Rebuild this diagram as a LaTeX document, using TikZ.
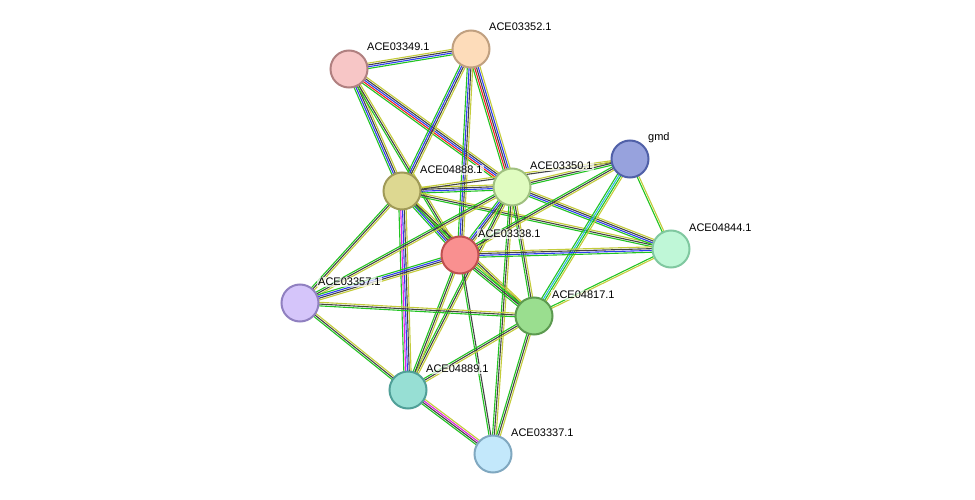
\documentclass[tikz,border=0pt]{standalone}
\usepackage{fontspec}
\setmainfont{Liberation Sans}
\usetikzlibrary{calc,backgrounds}
\definecolor{eg}{HTML}{22C422}
\definecolor{ey}{HTML}{C4CC3A}
\definecolor{eb}{HTML}{2E3CF0}
\definecolor{ek}{HTML}{444444}
\definecolor{er}{HTML}{F02020}
\definecolor{em}{HTML}{E020E0}
\definecolor{ec}{HTML}{30B8E0}
\tikzset{
  prot/.style={circle,minimum size=37pt,inner sep=0pt,line width=2pt},
  lab/.style={font=\fontsize{11}{12}\selectfont,anchor=west,inner sep=1pt,fill=white,fill opacity=0.7,text opacity=1}
}
\newcommand\ed[4]{%
  \foreach \c [count=\i] in {#4} {%
    \pgfmathsetmacro\off{(\i-(#3+1)/2)*1.8}%
    \draw[\c,line width=1.1pt] ($(#1.center)!\off pt!90:(#2.center)$) -- ($(#2.center)!\off pt!-90:(#1.center)$);
  }}
\begin{document}
\begin{tikzpicture}[x=1pt,y=-1pt]
\useasboundingbox (0,0) rectangle (975,500);
\node[prot,fill={rgb,255:red,247;green,198;blue,198},draw={rgb,255:red,176;green,128;blue,128}] (n49) at (349,69) {};
\node[prot,fill={rgb,255:red,253;green,220;blue,186},draw={rgb,255:red,192;green,160;blue,128}] (n52) at (471,49) {};
\node[prot,fill={rgb,255:red,151;green,162;blue,221},draw={rgb,255:red,80;green,96;blue,168}] (gmd) at (630,159) {};
\node[prot,fill={rgb,255:red,221;green,216;blue,145},draw={rgb,255:red,160;green,154;blue,88}] (n88) at (402,191) {};
\node[prot,fill={rgb,255:red,224;green,252;blue,192},draw={rgb,255:red,160;green,192;blue,128}] (n50) at (512,187) {};
\node[prot,fill={rgb,255:red,249;green,144;blue,144},draw={rgb,255:red,192;green,80;blue,80}] (n38) at (460,255) {};
\node[prot,fill={rgb,255:red,191;green,247;blue,215},draw={rgb,255:red,128;green,200;blue,160}] (n44) at (671,249) {};
\node[prot,fill={rgb,255:red,213;green,197;blue,250},draw={rgb,255:red,144;green,128;blue,192}] (n57) at (300,303) {};
\node[prot,fill={rgb,255:red,154;green,222;blue,143},draw={rgb,255:red,92;green,154;blue,80}] (n17) at (534,316) {};
\node[prot,fill={rgb,255:red,151;green,223;blue,212},draw={rgb,255:red,80;green,160;blue,152}] (n89) at (408,390) {};
\node[prot,fill={rgb,255:red,195;green,232;blue,251},draw={rgb,255:red,128;green,168;blue,192}] (n37) at (493,454) {};
\begin{scope}[on background layer]
\ed{n49}{n52}{4}{eg,eb,ek,ey}
\ed{n49}{n88}{4}{eg,eb,ek,ey}
\ed{n49}{n50}{5}{eg,er,eb,ek,ey}
\ed{n49}{n38}{3}{eg,ek,ey}
\ed{n52}{n88}{4}{eg,eb,ek,ey}
\ed{n52}{n50}{5}{eg,er,ek,eb,ey}
\ed{n52}{n38}{4}{eg,eb,ek,ey}
\ed{n88}{n50}{4}{eg,eb,ek,ey}
\ed{n88}{n38}{4}{eg,eb,ek,ey}
\ed{n88}{n17}{3}{eg,ek,ey}
\ed{n88}{n44}{3}{eg,ek,ey}
\ed{n88}{n57}{3}{eg,ek,ey}
\ed{n88}{n89}{5}{eg,em,eb,ek,ey}
\ed{n88}{gmd}{2}{ek,ey}
\ed{n50}{gmd}{3}{eg,ek,ey}
\ed{n50}{n44}{4}{eg,eb,ek,ey}
\ed{n50}{n38}{4}{eg,eb,ek,ey}
\ed{n50}{n17}{3}{eg,ek,ey}
\ed{n50}{n57}{3}{eg,ek,ey}
\ed{n50}{n89}{3}{eg,ek,ey}
\ed{n50}{n37}{3}{eg,ek,ey}
\ed{gmd}{n38}{3}{eg,ek,ey}
\ed{gmd}{n17}{4}{eg,ec,eg,ey}
\ed{gmd}{n44}{2}{eg,ey}
\ed{n38}{n44}{4}{eg,eb,ek,ey}
\ed{n38}{n57}{4}{eg,eb,ek,ey}
\ed{n38}{n17}{4}{eg,ek,eg,ey}
\ed{n38}{n89}{3}{eg,ek,ey}
\ed{n38}{n37}{2}{eg,ek}
\ed{n44}{n17}{2}{eg,ey}
\ed{n57}{n17}{3}{eg,ek,ey}
\ed{n57}{n89}{3}{eg,ek,ey}
\ed{n17}{n89}{3}{eg,ek,ey}
\ed{n17}{n37}{3}{eg,ek,ey}
\ed{n89}{n37}{4}{eg,ek,em,ey}
\end{scope}
\node[lab] (l49) at ($(n49.center)+(17,-22)$) {ACE03349.1};
\node[lab] (l52) at ($(n52.center)+(17,-22)$) {ACE03352.1};
\node[lab] (lgmd) at ($(gmd.center)+(17,-21)$) {gmd};
\node[lab] (l88) at ($(n88.center)+(17,-21)$) {ACE04888.1};
\node[lab] (l50) at ($(n50.center)+(17,-21)$) {ACE03350.1};
\node[lab] (l38) at ($(n38.center)+(17,-21)$) {ACE03338.1};
\node[lab] (l44) at ($(n44.center)+(17,-21)$) {ACE04844.1};
\node[lab] (l57) at ($(n57.center)+(17,-21)$) {ACE03357.1};
\node[lab] (l17) at ($(n17.center)+(17,-21)$) {ACE04817.1};
\node[lab] (l89) at ($(n89.center)+(17,-21)$) {ACE04889.1};
\node[lab] (l37) at ($(n37.center)+(17,-21)$) {ACE03337.1};
\end{tikzpicture}
\end{document}
